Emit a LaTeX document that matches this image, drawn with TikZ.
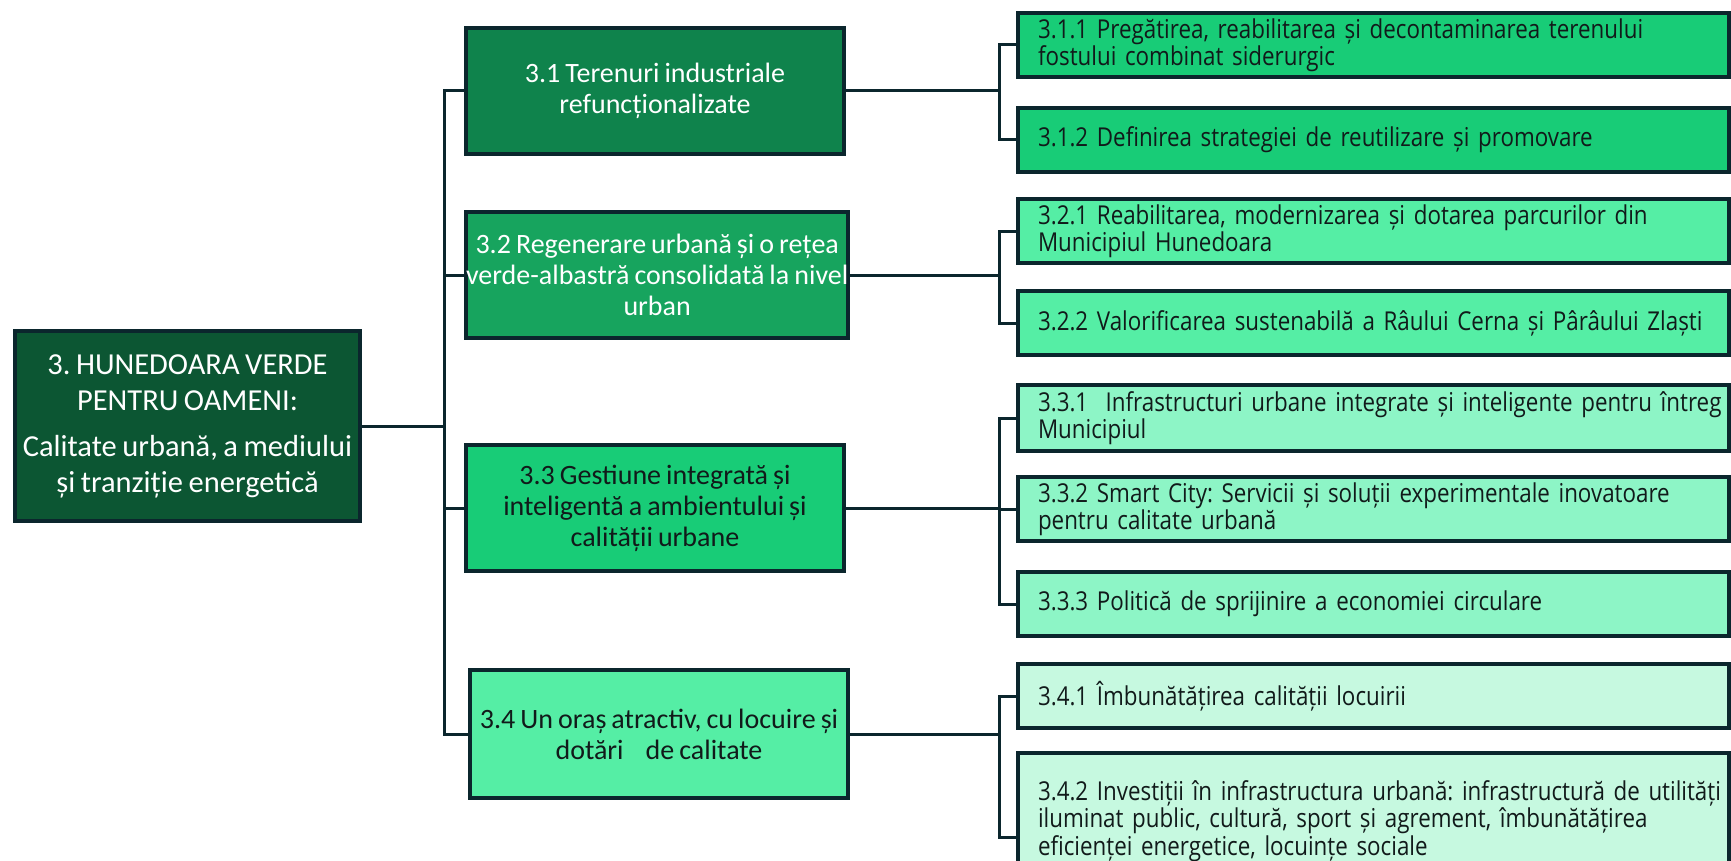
\documentclass[tikz,border=0pt]{standalone}
\usepackage{fontspec}
\setmainfont{Carlito}[WordSpace=0.8]
\newfontfamily\leaffont{Open Sans}[FakeStretch=0.86]
\definecolor{edge}{HTML}{0B262D}
\definecolor{ink}{HTML}{111A1A}
\definecolor{rootgreen}{HTML}{0C5633}
\definecolor{greenA}{HTML}{0F834C}
\definecolor{greenB}{HTML}{17A45E}
\definecolor{greenC}{HTML}{18CC77}
\definecolor{greenD}{HTML}{55EEA5}
\definecolor{greenE}{HTML}{8DF5C6}
\definecolor{greenF}{HTML}{C6F9E0}
\frenchspacing
\begin{document}
\begin{tikzpicture}[x=1pt,y=-1pt,
    box/.style={draw=edge, line width=4pt, anchor=north west, outer sep=0pt, inner sep=0pt, align=center},
    goal/.style={box, minimum width=378pt, minimum height=126pt,
        font=\fontsize{28}{31}\selectfont},
    leaf/.style={box, minimum height=64pt, inner xsep=20pt, text width=671pt, align=left,
        text=ink, font=\leaffont\fontsize{26}{27.5}\selectfont},
    wire/.style={draw=edge, line width=3pt}]
    \clip (0,0) rectangle (1731,861);

    \node[box, fill=rootgreen, text=white, minimum width=345pt, minimum height=190pt,
        font=\fontsize{30.5}{36}\selectfont] (root) at (15,331)
        {3. HUNEDOARA VERDE\\PENTRU OAMENI:\\[10pt]Calitate urbană, a mediului\\și tranziție energetică};

    \node[goal, fill=greenA, text=white] (g31) at (466,28) {3.1 Terenuri industriale\\refuncționalizate};
    \node[goal, fill=greenB, text=white] (g32) at (466,212) {3.2 Regenerare urbană și o rețea\\verde-albastră consolidată la nivel\\urban};
    \node[goal, fill=greenC, text=ink] (g33) at (466,445) {3.3 Gestiune integrată și\\inteligentă a ambientului și\\calității urbane};
    \node[goal, fill=greenD, text=ink, minimum height=128pt] (g34) at (470,670) {3.4 Un oraș atractiv, cu locuire și\\dotări\hspace{22pt}de calitate};

    \node[leaf, fill=greenC] (a311) at (1018,13) {3.1.1 Pregătirea, reabilitarea și decontaminarea terenului\\fostului combinat siderurgic};
    \node[leaf, fill=greenC] (a312) at (1018,108) {3.1.2 Definirea strategiei de reutilizare și promovare};
    \node[leaf, fill=greenD] (a321) at (1018,199) {3.2.1 Reabilitarea, modernizarea și dotarea parcurilor din\\Municipiul Hunedoara};
    \node[leaf, fill=greenD] (a322) at (1018,291) {3.2.2 Valorificarea sustenabilă a Râului Cerna și Pârâului Zlaști};
    \node[leaf, fill=greenE, minimum height=66pt] (a331) at (1018,385) {\mbox{3.3.1\ \ Infrastructuri urbane integrate și inteligente pentru întreg}\\Municipiul};
    \node[leaf, fill=greenE] (a332) at (1018,477) {3.3.2 Smart City: Servicii și soluții experimentale inovatoare\\pentru calitate urbană};
    \node[leaf, fill=greenE] (a333) at (1018,572) {3.3.3 Politică de sprijinire a economiei circulare};
    \node[leaf, fill=greenF] (a341) at (1018,664) {3.4.1 Îmbunătățirea calității locuirii};
    \node[leaf, fill=greenF, minimum height=136pt] (a342) at (1018,753) {\mbox{3.4.2 Investiții în infrastructura urbană: infrastructură de utilități}\\iluminat public, cultură, sport și agrement, îmbunătățirea\\eficienței energetice, locuințe sociale};

    \coordinate (trunk) at (444,426);
    \coordinate (b31) at (999,91);
    \coordinate (b32) at (999,275);
    \coordinate (b33) at (999,508);
    \coordinate (b34) at (999,734);

    \draw[wire] (root.east) -- (trunk);
    \foreach \g in {g31,g32,g33,g34}
        \draw[wire] (\g.west) -| (trunk);
    \foreach \g/\b in {g31/b31,g32/b32,g33/b33,g34/b34}
        \draw[wire] (\g.east) -- (\b);
    \foreach \a/\b in {a311/b31,a312/b31,a321/b32,a322/b32,a331/b33,a332/b33,a333/b33,a341/b34}
        \draw[wire] (\a.west) -| (\b);
    \draw[wire] ([yshift=-16pt]a342.west) -| (b34);
\end{tikzpicture}
\end{document}
